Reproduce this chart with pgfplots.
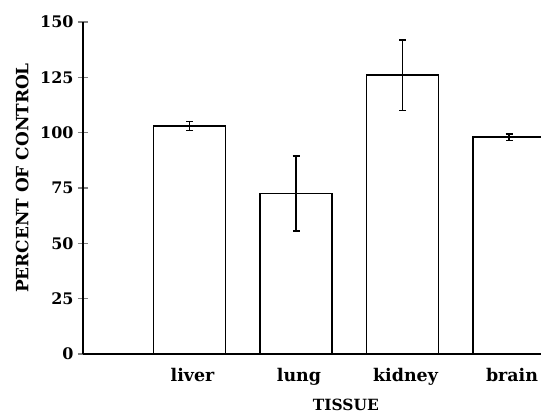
\documentclass[border=0pt]{standalone}
\usepackage{fontspec}
\setmainfont{DejaVu Serif}
\usepackage{pgfplots}
\pgfplotsset{compat=1.18}
\begin{document}
\begin{tikzpicture}
\useasboundingbox (-83bp,-62bp) rectangle (458bp,354bp);
\begin{axis}[
  at={(0,0)}, anchor=south west,
  scale only axis, width=458bp, height=332bp,
  xmin=0, xmax=4.3, ymin=0, ymax=150,
  axis x line=bottom, axis y line=left,
  axis line style={line width=1.8bp, -},
  ytick={0,25,50,75,100,125,150},
  xtick={1,2,3,4},
  xticklabels={liver,lung,kidney,brain},
  major x tick style={draw=none},
  major y tick style={line width=1.6bp},
  major tick length=10bp,
  tick align=center,
  /pgf/number format/assume math mode=true,
  yticklabel style={font=\fontsize{16}{19}\selectfont\bfseries, xshift=-1bp},
  xticklabel style={font=\fontsize{17.5}{20}\selectfont\bfseries, yshift=-1bp, xshift=3bp},
  ylabel={PERCENT OF CONTROL},
  xlabel={TISSUE},
  every axis y label/.style={at={(axis description cs:-0.133,0.53)}, rotate=90, anchor=center, font=\fontsize{17}{20}\selectfont\bfseries},
  every axis x label/.style={at={(axis description cs:0.574,-0.154)}, anchor=center, font=\fontsize{15.5}{18}\selectfont\bfseries},
  ybar, bar width=0.675,
  clip=true,
  error bars/error bar style={line width=1.8bp},
]
\addplot[draw=black, fill=white, line width=1.8bp,
  error bars/.cd, y dir=both, y explicit,
  error bar style={line width=1.8bp},
  error mark options={rotate=90, mark size=3.5bp, line width=1.8bp}]
  table[x=x, y=y, y error=e] {
x y e
1 103 2
2 72.5 17
3 126 16
4 98 1.5
};
\end{axis}
\end{tikzpicture}
\end{document}
